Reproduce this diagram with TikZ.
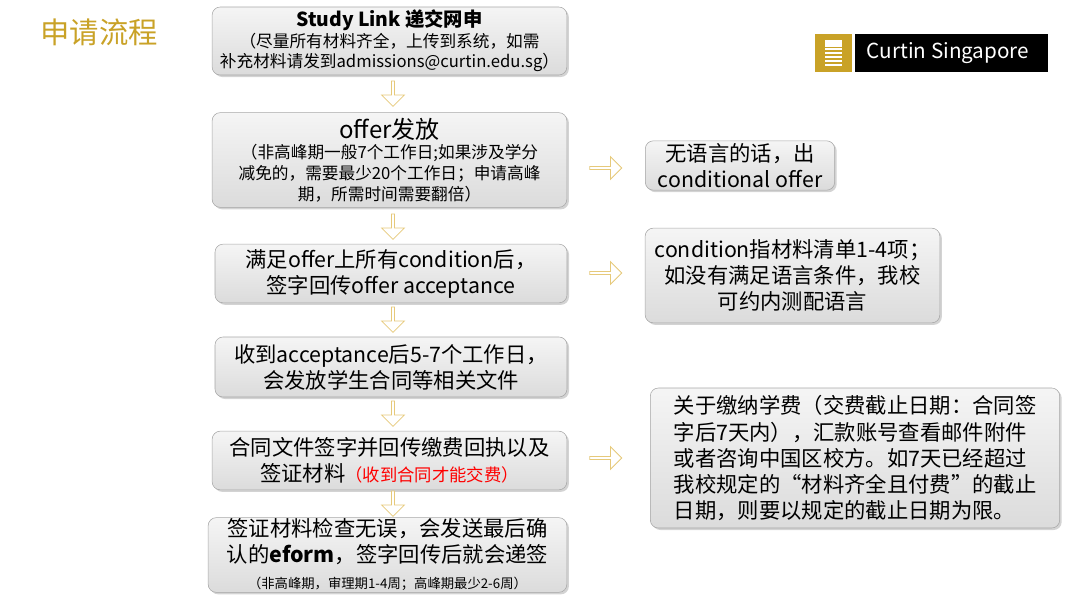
\documentclass[tikz,border=0pt]{standalone}
\usepackage{fontspec}
\setmainfont{Noto Sans CJK SC}
\usetikzlibrary{shapes.arrows,shadows}
\definecolor{gold}{HTML}{C9A227}
\definecolor{arr}{HTML}{E6C97A}
\newcommand\bgf{\fontsize{16}{19.5}\selectfont}
\newcommand\smf{\fontsize{12.5}{15.5}\selectfont}
\begin{document}
\begin{tikzpicture}[x=0.75pt,y=-0.75pt,
 box/.style={draw=gray!70,rounded corners=6pt,top color=gray!8,bottom color=gray!28,
   drop shadow={shadow xshift=1.5pt,shadow yshift=-1.5pt,opacity=0.35},align=center,inner sep=0pt},
 darr/.style={single arrow,draw=arr,fill=white,line width=0.6pt,shape border rotate=270,
   minimum height=19pt,minimum width=17pt,single arrow head extend=2pt,inner sep=0pt},
 rarr/.style={single arrow,draw=arr,fill=white,line width=0.6pt,
   minimum height=24pt,minimum width=17pt,single arrow head extend=2pt,inner sep=0pt},
 bg/.style={font=\bgf}]
\useasboundingbox (0,0) rectangle (1080,607);
\node[font=\fontsize{22}{24}\selectfont,text=gold] (title) at (99,32) {申请流程};
% logo
\fill[gold] (815,34) rectangle (852,72);
\fill[black] (855,34) rectangle (1048,72);
\node[text=white,font=\fontsize{15.5}{17}\selectfont] (logo) at (948,53) {Curtin Singapore};
\foreach \yy in {48,52,56,60,64}{\fill[white] (825,\yy) rectangle (842,\yy+2);}
\fill[white] (825,40) rectangle (842,47);
% left column
\node[box,minimum width=266pt,minimum height=51pt] (b1) at (389.5,41) {};
\node[align=center,font=\smf] (t1) at (b1) {{\fontsize{14.5}{17}\selectfont\bfseries Study Link 递交网申}\\（尽量所有材料齐全，上传到系统，如需\\补充材料请发到admissions@curtin.edu.sg）};
\node[box,minimum width=266pt,minimum height=71pt] (b2) at (389.5,160) {};
\node[align=center,font=\smf] (t2) at (b2) {{\fontsize{18}{21}\selectfont offer发放}\\（非高峰期一般7个工作日;如果涉及学分\\减免的，需要最少20个工作日；申请高峰\\期，所需时间需要翻倍）};
\node[box,minimum width=264pt,minimum height=44pt] (b3) at (391,273.5) {};
\node[bg,align=center] (t3) at (b3) {满足offer上所有condition后，\\签字回传offer acceptance};
\node[box,minimum width=264pt,minimum height=45pt] (b4) at (391,367) {};
\node[bg,align=center] (t4) at (b4) {收到acceptance后5-7个工作日，\\会发放学生合同等相关文件};
\node[box,minimum width=266pt,minimum height=44pt] (b5) at (389.5,460.5) {};
\node[bg,align=center] (t5) at (b5) {合同文件签字并回传缴费回执以及\\签证材料{\fontsize{13}{15}\selectfont\color{red}（收到合同才能交费）}};
\node[box,minimum width=269pt,minimum height=56pt] (b6) at (387.5,555) {};
\node[align=center,font=\bgf] (t6) at (b6) {签证材料检查无误，会发送最后确\\认的\textbf{eform}，签字回传后就会递签\\{\fontsize{10}{12}\selectfont （非高峰期，审理期1-4周；高峰期最少2-6周）}};
% down arrows
\node[darr] (d1) at (393,93) {};
\node[darr] (d2) at (393,226) {};
\node[darr] (d3) at (393,319) {};
\node[darr] (d4) at (393,413) {};
\node[darr] (d5) at (393,503) {};
% right boxes
\node[box,minimum width=142pt,minimum height=37pt] (r1) at (740,165.5) {};
\node[bg,align=center] (s1) at (r1) {无语言的话，出\\conditional offer};
\node[box,minimum width=221pt,minimum height=71pt] (r2) at (792.5,275.5) {};
\node[bg,align=center] (s2) at (r2) {condition指材料清单1-4项；\\如没有满足语言条件，我校\\可约内测配语言};
\node[box,minimum width=307pt,minimum height=105pt] (r3) at (855,458) {};
\node[bg,align=left] (s3) at (r3) {关于缴纳学费（交费截止日期：合同签\\字后7天内），汇款账号查看邮件附件\\或者咨询中国区校方。如7天已经超过\\我校规定的“材料齐全且付费”的截止\\日期，则要以规定的截止日期为限。};
\node[rarr] (a1) at (605,168) {};
\node[rarr] (a2) at (605,273) {};
\node[rarr] (a3) at (605,458) {};
\end{tikzpicture}
\end{document}
